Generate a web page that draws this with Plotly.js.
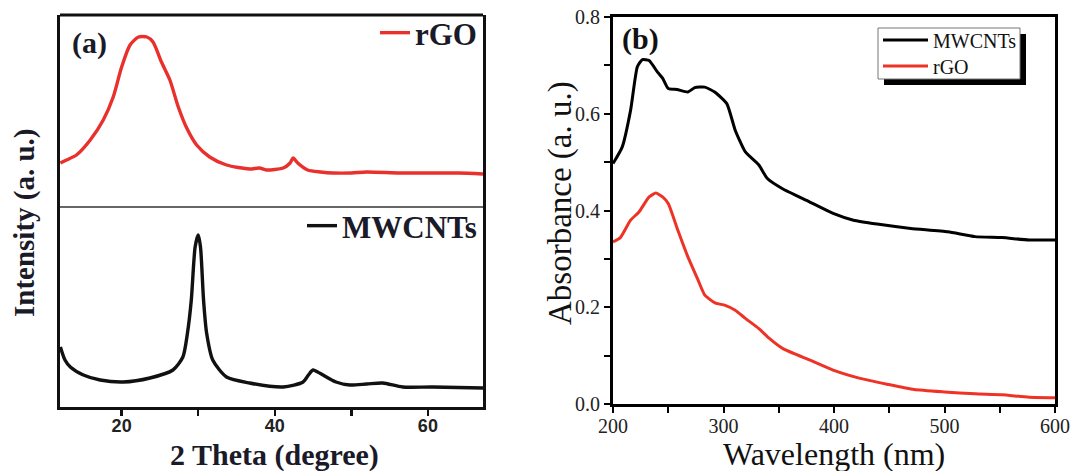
<!DOCTYPE html>
<html>
<head>
<meta charset="utf-8">
<script src="https://cdn.plot.ly/plotly-3.0.1.min.js"></script>
<style>html,body{margin:0;padding:0;background:#fff;}#chart{width:1070px;height:471px;}</style>
</head>
<body>
<div id="chart"></div>
<script>
// ---- Panel (a): XRD, 2 Theta (degree) vs intensity (a.u.) ----
const rgoTheta = [12.0, 12.8, 14.1, 15.9, 17.6, 18.9, 20.0, 21.1, 22.2, 23.3, 24.1, 25.2, 26.3, 27.4, 28.5, 29.8, 31.5, 33.7, 36.7, 38.0, 38.9, 41.1, 42.0, 42.4, 43.0, 44.3, 46.0, 47.6, 50.0, 52.0, 56.3, 60.0, 64.0, 67.2];
const rgoIntensity = [44, 47, 52, 67, 87, 110, 140, 162, 170, 170, 165, 145, 127, 100, 79, 62, 50, 42, 38, 39, 37, 39, 44, 49, 44, 37, 35, 34, 34, 35, 34, 34, 34, 33];

const mwTheta = [12.0, 12.6, 13.3, 15.0, 17.2, 20.2, 23.7, 26.7, 28.0, 28.6, 29.1, 29.6, 30.0, 30.3, 30.7, 31.1, 31.9, 33.7, 36.7, 41.1, 43.7, 44.4, 45.0, 45.6, 46.3, 48.0, 49.8, 52.0, 54.1, 56.7, 60.6, 67.2];
const mwIntensity = [60, 47, 40, 32, 27, 25, 29, 37, 50, 74, 107, 160, 172, 160, 107, 74, 47, 30, 24, 20, 25, 32, 37, 35, 32, 25, 22, 23, 24, 20, 20, 19];

// ---- Panel (b): UV-vis absorbance ----
const mwWave = [200, 208.3, 215.9, 222, 226.6, 232.7, 240.3, 245, 250, 258, 267.8, 274, 283, 292, 303, 310.6, 319.8, 332, 339.7, 353.4, 377.8, 399.2, 417.6, 439, 469.5, 503, 527.6, 552, 576.5, 600];
const mwAbs = [0.497, 0.531, 0.607, 0.697, 0.712, 0.710, 0.686, 0.673, 0.652, 0.650, 0.645, 0.654, 0.655, 0.645, 0.621, 0.566, 0.521, 0.494, 0.466, 0.445, 0.418, 0.394, 0.380, 0.372, 0.363, 0.356, 0.346, 0.344, 0.339, 0.339];

const rgoWave = [200, 206.7, 215.9, 223.5, 232.7, 238.8, 244.9, 250.1, 258.7, 267.8, 277, 283.1, 292.3, 301.5, 310.6, 319.8, 332, 341.2, 353.4, 377.8, 399.2, 423.6, 448, 472.5, 500, 527.6, 552, 576.5, 600];
const rgoAbs = [0.335, 0.344, 0.380, 0.397, 0.428, 0.436, 0.428, 0.414, 0.359, 0.304, 0.256, 0.225, 0.209, 0.204, 0.194, 0.177, 0.156, 0.136, 0.115, 0.091, 0.070, 0.053, 0.041, 0.030, 0.025, 0.021, 0.019, 0.014, 0.013];

const seriesNames = ["rGO", "MWCNTs"];
const panelLabels = ["(a)", "(b)"];
const axisTitles = ["2 Theta (degree)", "Intensity (a. u.)", "Wavelength (nm)", "Absorbance (a. u.)"];
const xTicksA = [20, 40, 60];
const xRangeA = [11.95, 67.2];
const xRangeB = [200, 600];

const W = 1070, H = 471;
const px = v => v / W;
const py = v => 1 - v / H;

const serif = "Liberation Serif, Times New Roman, serif";
const sans = "Liberation Sans, Arial, sans-serif";
const darkText = "#1a1a28";
const red = "#e8302c";
const redB = "#ee3326";

const traces = [
  {x: rgoTheta, y: rgoIntensity, xaxis: "x", yaxis: "y2", type: "scatter", mode: "lines",
   name: seriesNames[0], legend: "legend", line: {color: red, width: 3.4, shape: "spline", smoothing: 0.7}},
  {x: mwTheta, y: mwIntensity, xaxis: "x2", yaxis: "y", type: "scatter", mode: "lines",
   name: seriesNames[1], legend: "legend2", line: {color: "#111", width: 3.4, shape: "spline", smoothing: 0.7}},
  {x: mwWave, y: mwAbs, xaxis: "x3", yaxis: "y3", type: "scatter", mode: "lines",
   name: seriesNames[1], legend: "legend3", line: {color: "#000", width: 3, shape: "spline", smoothing: 0.5}},
  {x: rgoWave, y: rgoAbs, xaxis: "x4", yaxis: "y3", type: "scatter", mode: "lines",
   name: seriesNames[0], legend: "legend4", line: {color: redB, width: 3, shape: "spline", smoothing: 0.5}}
];

const legA = {family: serif, size: 31, color: darkText, weight: "bold"};
const legB = {family: serif, size: 20, color: "#111"};

const layout = {
  width: W, height: H,
  margin: {l: 0, r: 0, t: 0, b: 0},
  paper_bgcolor: "#fff", plot_bgcolor: "#fff",
  showlegend: true,
  // panel (a): tick marks + frame
  xaxis: {
    domain: [px(60), px(483)], anchor: "y", range: xRangeA,
    tickvals: xTicksA, ticks: "outside", ticklen: 6, tickwidth: 2.5, tickcolor: "#111",
    minor: {dtick: 10, tick0: 0, ticks: "outside", ticklen: 6, tickwidth: 2.5, tickcolor: "#111"},
    showline: true, linewidth: 3, linecolor: "#111", showgrid: false, zeroline: false,
    showticklabels: false
  },
  // panel (a): tick labels (same scale, overlaid)
  xaxis2: {
    overlaying: "x", anchor: "y", side: "bottom", range: xRangeA,
    tickvals: xTicksA, ticks: "", showline: false, showgrid: false, zeroline: false,
    ticklabelstandoff: 6,
    tickfont: {family: sans, size: 18, color: "#222", weight: "bold"}
  },
  yaxis: {
    domain: [py(407), py(207)], anchor: "x", range: [0, 200],
    showticklabels: false, ticks: "", showgrid: false, zeroline: false,
    showline: true, linewidth: 3, linecolor: "#111", mirror: true
  },
  yaxis2: {
    domain: [py(207), py(15)], anchor: "x", range: [0, 192],
    showticklabels: false, ticks: "", showgrid: false, zeroline: false,
    showline: true, linewidth: 3, linecolor: "#111", mirror: true
  },
  // panel (b): tick marks + frame
  xaxis3: {
    domain: [px(613), px(1055)], anchor: "y3", range: xRangeB,
    dtick: 100, tick0: 0, ticks: "outside", ticklen: 6, tickwidth: 2, tickcolor: "#000",
    minor: {dtick: 50, tick0: 0, ticks: "outside", ticklen: 6, tickwidth: 2, tickcolor: "#000"},
    showline: true, linewidth: 3, linecolor: "#000", mirror: true, showgrid: false, zeroline: false,
    showticklabels: false
  },
  // panel (b): tick labels (same scale, overlaid)
  xaxis4: {
    overlaying: "x3", anchor: "y3", side: "bottom", range: xRangeB,
    dtick: 100, tick0: 0, ticks: "", showline: false, showgrid: false, zeroline: false,
    ticklabelstandoff: 8,
    tickfont: {family: serif, size: 20, color: "#222"}
  },
  yaxis3: {
    domain: [py(404), py(17)], anchor: "x3", range: [0, 0.8],
    dtick: 0.2, tick0: 0, tickformat: ".1f", ticks: "outside", ticklen: 6, tickwidth: 2, tickcolor: "#000",
    minor: {dtick: 0.1, tick0: 0, ticks: "outside", ticklen: 6, tickwidth: 2, tickcolor: "#000"},
    showline: true, linewidth: 3, linecolor: "#000", mirror: true, showgrid: false, zeroline: false,
    tickfont: {family: serif, size: 20, color: "#222"}
  },
  legend: {
    x: px(482), xanchor: "right", y: py(33), yanchor: "middle",
    bgcolor: "rgba(0,0,0,0)", borderwidth: 0, font: legA
  },
  legend2: {
    x: px(482), xanchor: "right", y: py(226), yanchor: "middle",
    bgcolor: "rgba(0,0,0,0)", borderwidth: 0, font: legA
  },
  legend3: {
    x: px(878), xanchor: "left", y: py(40), yanchor: "middle", itemwidth: 45,
    bgcolor: "rgba(0,0,0,0)", borderwidth: 0, font: legB
  },
  legend4: {
    x: px(878), xanchor: "left", y: py(66), yanchor: "middle", itemwidth: 45,
    bgcolor: "rgba(0,0,0,0)", borderwidth: 0, font: legB
  },
  shapes: [
    // divider between the two XRD panels
    {type: "line", xref: "x domain", yref: "y domain", x0: 0, x1: 1, y0: 1, y1: 1,
     line: {color: "#333", width: 1.5}},
    // top border of panel (a)
    {type: "line", xref: "x domain", yref: "y2 domain", x0: 0, x1: 1, y0: 1, y1: 1,
     line: {color: "#111", width: 3}},
    // legend (b) shadow and box
    {type: "rect", xref: "paper", yref: "paper", x0: px(884), x1: px(1026), y0: py(85), y1: py(34),
     fillcolor: "#000", line: {width: 0}, layer: "above"},
    {type: "rect", xref: "paper", yref: "paper", x0: px(878), x1: px(1020), y0: py(79), y1: py(28),
     fillcolor: "#fff", line: {color: "#777", width: 1}, layer: "above"}
  ],
  annotations: [
    {text: panelLabels[0], xref: "paper", yref: "paper", x: px(89), y: py(43), xanchor: "center", yanchor: "middle",
     showarrow: false, font: {family: serif, size: 30, color: darkText, weight: "bold"}},
    {text: panelLabels[1], xref: "paper", yref: "paper", x: px(640), y: py(39), xanchor: "center", yanchor: "middle",
     showarrow: false, font: {family: serif, size: 30, color: "#111", weight: "bold"}},
    {text: axisTitles[0], xref: "paper", yref: "paper", x: px(275), y: py(455), xanchor: "center", yanchor: "middle",
     showarrow: false, font: {family: serif, size: 30, color: darkText, weight: "bold"}},
    {text: axisTitles[1], xref: "paper", yref: "paper", x: px(24), y: py(223), xanchor: "center", yanchor: "middle",
     textangle: -90, showarrow: false, font: {family: serif, size: 29, color: darkText, weight: "bold"}},
    {text: axisTitles[2], xref: "paper", yref: "paper", x: px(834), y: py(454), xanchor: "center", yanchor: "middle",
     showarrow: false, font: {family: serif, size: 32, color: "#111"}},
    {text: axisTitles[3], xref: "paper", yref: "paper", x: px(560), y: py(203), xanchor: "center", yanchor: "middle",
     textangle: -90, showarrow: false, font: {family: serif, size: 33, color: "#111"}}
  ]
};

Plotly.newPlot("chart", traces, layout, {displayModeBar: false, staticPlot: true});
</script>
</body>
</html>
